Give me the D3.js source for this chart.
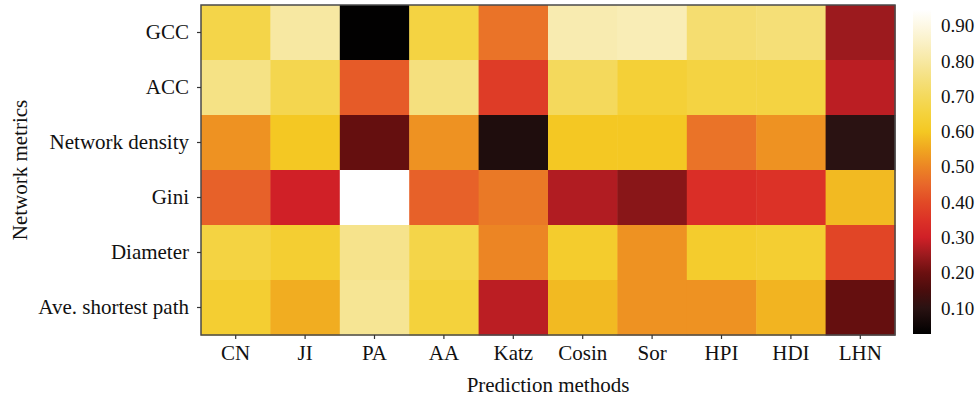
<!DOCTYPE html>
<html lang="en">
<head>
<meta charset="UTF-8">
<title>Heatmap</title>
<script src="https://cdn.jsdelivr.net/npm/d3@7"></script>
<style>
  body { margin: 0; background: #fff; }
  text { font-family: "Liberation Serif", "Times New Roman", serif; fill: #111; }
</style>
</head>
<body>
<svg width="979" height="402"></svg>
<script>
// categories
const methods = ["CN", "JI", "PA", "AA", "Katz", "Cosin", "Sor", "HPI", "HDI", "LHN"];
const metrics = ["GCC", "ACC", "Network density", "Gini", "Diameter", "Ave. shortest path"];

// values per metric row (order follows methods)
const gcc      = [0.67, 0.80, 0.03, 0.66, 0.47, 0.82, 0.83, 0.73, 0.74, 0.25];
const acc      = [0.76, 0.68, 0.43, 0.75, 0.37, 0.70, 0.64, 0.66, 0.66, 0.28];
const density  = [0.52, 0.60, 0.19, 0.52, 0.08, 0.60, 0.60, 0.47, 0.52, 0.10];
const gini     = [0.44, 0.30, 0.95, 0.44, 0.48, 0.27, 0.23, 0.34, 0.35, 0.58];
const diameter = [0.66, 0.63, 0.77, 0.67, 0.50, 0.62, 0.52, 0.62, 0.63, 0.39];
const aspl     = [0.63, 0.56, 0.78, 0.65, 0.28, 0.58, 0.52, 0.52, 0.57, 0.19];
const rows = [gcc, acc, density, gini, diameter, aspl];

// colorbar ticks
const cbTicks = [0.10, 0.20, 0.30, 0.40, 0.50, 0.60, 0.70, 0.80, 0.90];
const cbDomain = [0.026, 0.945];

// colormap stops
const stopVals = [0.026, 0.10, 0.15, 0.20, 0.25, 0.30, 0.35, 0.40, 0.45, 0.50, 0.55, 0.60, 0.65, 0.70, 0.75, 0.80, 0.85, 0.90, 0.945];
const stopCols = ["#000000", "#2a1212", "#4a0d0d", "#6c1010", "#9c1a1e", "#d02027", "#dc3227", "#e24a26", "#e8672a", "#ec8524", "#f0a620", "#f4c823", "#f4d23c", "#f4d95c", "#f5e07e", "#f7e8a2", "#faf0c4", "#fdf8e4", "#ffffff"];

const color = d3.scaleLinear().domain(stopVals).range(stopCols).clamp(true);

const svg = d3.select("svg");
const margin = { left: 201, top: 5, right: 895, bottom: 335 };

const x = d3.scaleBand().domain(methods).range([margin.left, margin.right]);
const y = d3.scaleBand().domain(metrics).range([margin.top, margin.bottom]);

// cells
const cells = [];
rows.forEach((r, i) => r.forEach((v, j) => cells.push({ metric: metrics[i], method: methods[j], value: v })));

svg.append("g").selectAll("rect")
  .data(cells)
  .enter().append("rect")
  .attr("x", d => x(d.method))
  .attr("y", d => y(d.metric))
  .attr("width", x.bandwidth() + 0.5)
  .attr("height", y.bandwidth() + 0.5)
  .attr("fill", d => color(d.value));

// frame
svg.append("rect")
  .attr("x", margin.left).attr("y", margin.top)
  .attr("width", margin.right - margin.left)
  .attr("height", margin.bottom - margin.top)
  .attr("fill", "none").attr("stroke", "#4a4a4a").attr("stroke-width", 1.5);

// axes
const xAxis = svg.append("g")
  .attr("transform", `translate(0,${margin.bottom})`)
  .call(d3.axisBottom(x).tickSize(4).tickPadding(6));
const yAxis = svg.append("g")
  .attr("transform", `translate(${margin.left},0)`)
  .call(d3.axisLeft(y).tickSize(4).tickPadding(8));

[xAxis, yAxis].forEach(g => {
  g.select(".domain").remove();
  g.selectAll(".tick line").attr("stroke", "#333").attr("stroke-width", 1.2);
  g.selectAll(".tick text").style("font-size", "21px").attr("fill", "#111");
});

// axis titles
svg.append("text")
  .attr("x", (margin.left + margin.right) / 2)
  .attr("y", 392)
  .attr("text-anchor", "middle")
  .style("font-size", "21px")
  .text("Prediction methods");

svg.append("text")
  .attr("transform", `translate(27,${(margin.top + margin.bottom) / 2}) rotate(-90)`)
  .attr("text-anchor", "middle")
  .style("font-size", "21px")
  .text("Network metrics");

// colorbar
const cb = { x: 913, w: 18, top: 10, bottom: 334 };
const cy = d3.scaleLinear().domain(cbDomain).range([cb.bottom, cb.top]);

const grad = svg.append("defs").append("linearGradient")
  .attr("id", "cbgrad")
  .attr("x1", 0).attr("y1", 1).attr("x2", 0).attr("y2", 0);
grad.selectAll("stop")
  .data(stopVals)
  .enter().append("stop")
  .attr("offset", d => (d - cbDomain[0]) / (cbDomain[1] - cbDomain[0]))
  .attr("stop-color", (d, i) => stopCols[i]);

svg.append("rect")
  .attr("x", cb.x).attr("y", cb.top)
  .attr("width", cb.w).attr("height", cb.bottom - cb.top)
  .attr("fill", "url(#cbgrad)");

const cbAxis = svg.append("g")
  .attr("transform", `translate(${cb.x + cb.w},0)`)
  .call(d3.axisRight(cy).tickValues(cbTicks).tickFormat(d3.format(".2f")).tickSize(0).tickPadding(10));
cbAxis.select(".domain").remove();
cbAxis.selectAll(".tick text").style("font-size", "19px").attr("fill", "#111");
</script>
</body>
</html>
